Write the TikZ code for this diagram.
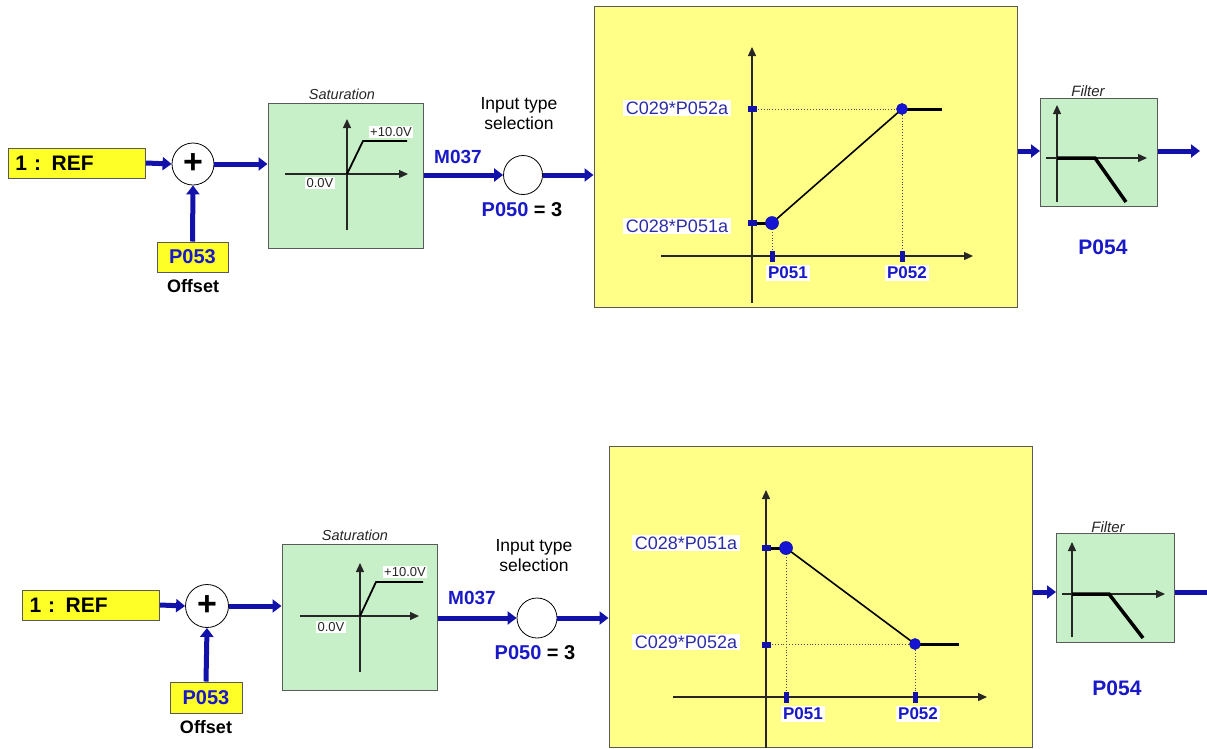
\documentclass[tikz,border=0pt]{standalone}
\usepackage{fontspec}
\setmainfont{Liberation Sans}
\usetikzlibrary{arrows.meta,calc}
\definecolor{sigblue}{RGB}{18,18,170}
\definecolor{lblblue}{RGB}{25,25,200}
\definecolor{cblue}{RGB}{45,45,165}
\definecolor{dotblue}{RGB}{20,20,210}
\definecolor{refyellow}{RGB}{255,255,40}
\definecolor{bigyellow}{RGB}{255,255,135}
\definecolor{satgreen}{RGB}{200,240,200}
\definecolor{framegray}{RGB}{90,90,90}
\newcommand{\fs}[1]{\fontsize{#1}{#1}\selectfont}
\tikzset{
  sig/.style={draw=sigblue, line width=5pt, -{Triangle[length=9pt,width=13pt]}},
  sigplain/.style={draw=sigblue, line width=5pt},
  axisline/.style={draw=black!85, line width=1.3pt, -{Triangle[length=9pt,width=8pt]}},
  curve/.style={draw=black, line width=1.6pt},
  flat/.style={draw=black, line width=3pt},
  filtline/.style={draw=black, line width=3.5pt},
  guide/.style={draw=black!70, line width=0.9pt, dotted},
  refbox/.style={draw=framegray, line width=1pt, fill=refyellow, text width=123pt,
    inner xsep=7pt, inner ysep=0pt, minimum height=30pt, align=left, font=\fs{21}\bfseries},
  parbox/.style={draw=framegray, line width=1pt, fill=refyellow, minimum width=71pt,
    minimum height=30pt, inner sep=0pt, text=lblblue, font=\fs{20}\bfseries},
  sumnode/.style={circle, draw=black, line width=0.8pt, fill=white, minimum size=42pt,
    inner sep=0pt, font=\fs{34}\bfseries},
  selnode/.style={circle, draw=black, line width=0.8pt, fill=white, minimum size=39pt, inner sep=0pt},
  greenbox/.style={draw=framegray, line width=1pt, fill=satgreen, inner sep=0pt},
  yelbox/.style={draw=framegray, line width=1pt, fill=bigyellow, inner sep=0pt},
  boxtitle/.style={font=\fs{14.5}\itshape, text=black!85, inner sep=0pt},
  smalllbl/.style={fill=white, inner sep=1.5pt, font=\fs{13}, text=black!85},
  cval/.style={fill=white, inner xsep=3pt, inner ysep=2pt, font=\fs{18}, text=cblue},
  pval/.style={fill=white, inner xsep=2pt, inner ysep=1.5pt, font=\fs{17}\bfseries, text=lblblue},
  bluelbl/.style={inner sep=0pt, font=\fs{19}\bfseries, text=lblblue},
  plainlbl/.style={inner sep=0pt, font=\fontsize{17.5}{20}\selectfont, align=center},
  offlbl/.style={inner sep=0pt, font=\fs{18}\bfseries},
  htick/.style={fill=sigblue, inner sep=0pt, minimum width=9pt, minimum height=6pt},
  vtick/.style={fill=sigblue, inner sep=0pt, minimum width=5pt, minimum height=11pt},
  bigdot/.style={circle, fill=dotblue, draw=sigblue, line width=0.6pt, inner sep=0pt, minimum size=13pt},
  smalldot/.style={circle, fill=dotblue, draw=sigblue, line width=0.6pt, inner sep=0pt, minimum size=11pt}
}
\begin{document}
\begin{tikzpicture}[x=1pt,y=-1pt]
\useasboundingbox (0,0) rectangle (1207,748);
\clip (0,0) rectangle (1207,748);

% ================= TOP ROW =================
\node[refbox] (ref1) at (77,163) {1 : REF};
\node[sumnode] (sum1) at (193,164) {+};
\node[parbox] (p53a) at (192.5,257) {P053};
\node[offlbl] (off1) at (193,286) {Offset};
\node[greenbox, minimum width=155pt, minimum height=145pt] (sat1) at (345.5,175.5) {};
\node[boxtitle] (satt1) at (342,94) {Saturation};
\node[selnode] (sel1) at (523,175) {};
\node[bluelbl] (m37a) at (458,157) {M037};
\node[plainlbl] (its1) at (519,114) {Input type\\selection};
\node[inner sep=0pt, font=\fs{20}\bfseries] (p50a) at (522,210) {\textcolor{lblblue}{P050} = 3};
\node[yelbox, minimum width=423pt, minimum height=301pt] (yel1) at (805.5,156.5) {};
\node[greenbox, minimum width=117pt, minimum height=108pt] (filt1) at (1098.5,152) {};
\node[boxtitle, font=\fs{15}\itshape] (filtt1) at (1088,91) {Filter};
\node[bluelbl, font=\fs{21}\bfseries] (p54a) at (1103,247) {P054};

% signal connectors
\draw[sig] (ref1.east) -- (sum1.west);
\draw[sig] (p53a.north) -- (sum1.south);
\draw[sig] (sum1.east) -- (sum1.east -| sat1.west);
\draw[sig] (sat1.east |- sel1.west) -- (sel1.west);
\draw[sig] (sel1.east) -- (sel1.east -| yel1.west);
\coordinate (f1in) at (1040,151);
\draw[sig] (yel1.east |- f1in) -- (f1in);
\coordinate (out1) at (1200,151);
\draw[sig] (filt1.east |- out1) -- (out1);

% saturation chart
\coordinate (s1o) at (347,174);
\draw[axisline] (285,174) -- (408,174);
\draw[axisline] (347,230) -- (347,119);
\draw[line width=1.8pt] (s1o) -- (363,141) -- (407,141);
\node[smalllbl] (s1hi) at (391,132) {+10.0V};
\node[smalllbl] (s1lo) at (320,183) {0.0V};

% linear chart (rising)
\draw[axisline] (752,303) -- (752,47);
\draw[axisline] (661,256) -- (973,256);
\coordinate (A1) at (772,223);
\coordinate (B1) at (902,109);
\coordinate (B1e) at (942,109);
\draw[guide] (752,109) -- (B1);
\draw[guide] (A1) -- (772,256);
\draw[guide] (B1) -- (902,256);
\draw[flat] (752,223) -- (A1);
\draw[flat] (B1) -- (B1e);
\draw[curve] (A1) -- (B1);
\node[htick] (t1a) at (752,109) {};
\node[htick] (t1b) at (752,223) {};
\node[vtick] (t1c) at (772,256.5) {};
\node[vtick] (t1d) at (902,256.5) {};
\node[bigdot] (d1a) at (A1) {};
\node[smalldot] (d1b) at (B1) {};
\node[cval] (c29a) at (677,108) {C029*P052a};
\node[cval] (c28a) at (677,226) {C028*P051a};
\node[pval] (p51a) at (788,273) {P051};
\node[pval] (p52a) at (907,273) {P052};

% filter chart
\draw[axisline] (1046,158) -- (1147,158);
\draw[axisline] (1057,202) -- (1057,105);
\draw[filtline] (1057,158) -- (1095,158) -- (1126,202);

% ================= BOTTOM ROW =================
\node[refbox] (ref2) at (91,605) {1 : REF};
\node[sumnode, minimum size=43pt] (sum2) at (207,606) {+};
\node[parbox, minimum width=72pt, minimum height=31pt] (p53b) at (206,697.5) {P053};
\node[offlbl] (off2) at (206,727) {Offset};
\node[greenbox, minimum width=155pt, minimum height=146pt] (sat2) at (359.5,617) {};
\node[boxtitle] (satt2) at (355,535) {Saturation};
\node[selnode, minimum size=40pt] (sel2) at (537,618) {};
\node[bluelbl] (m37b) at (472,598) {M037};
\node[plainlbl] (its2) at (534,556) {Input type\\selection};
\node[inner sep=0pt, font=\fs{20}\bfseries] (p50b) at (535,653) {\textcolor{lblblue}{P050} = 3};
\node[yelbox, minimum width=423pt, minimum height=301pt] (yel2) at (820.5,596.5) {};
\node[greenbox, minimum width=118pt, minimum height=109pt] (filt2) at (1115,587.5) {};
\node[boxtitle, font=\fs{15}\itshape] (filtt2) at (1108,527) {Filter};
\node[bluelbl, font=\fs{21}\bfseries] (p54b) at (1117,688) {P054};

\draw[sig] (ref2.east) -- (sum2.west);
\draw[sig] (p53b.north) -- (sum2.south);
\draw[sig] (sum2.east) -- (sum2.east -| sat2.west);
\draw[sig] (sat2.east |- sel2.west) -- (sel2.west);
\draw[sig] (sel2.east) -- (sel2.east -| yel2.west);
\coordinate (f2in) at (1056,592);
\draw[sig] (yel2.east |- f2in) -- (f2in);
\coordinate (out2) at (1212,592);
\draw[sigplain] (filt2.east |- out2) -- (out2);

% saturation chart
\coordinate (s2o) at (360,616);
\draw[axisline] (300,616) -- (419,616);
\draw[axisline] (360,672) -- (360,563);
\draw[line width=1.8pt] (s2o) -- (376,582) -- (423,582);
\node[smalllbl] (s2hi) at (405,572) {+10.0V};
\node[smalllbl] (s2lo) at (331,627) {0.0V};

% linear chart (falling)
\draw[axisline] (766,748) -- (766,490);
\draw[axisline] (673,697) -- (987,697);
\coordinate (A2) at (786,548);
\coordinate (B2) at (915,644);
\coordinate (B2e) at (959,644);
\draw[guide] (766,644) -- (B2);
\draw[guide] (A2) -- (786,697);
\draw[guide] (B2) -- (915,697);
\draw[flat] (766,548) -- (A2);
\draw[flat] (B2) -- (B2e);
\draw[curve] (A2) -- (B2);
\node[htick] (t2a) at (766,548) {};
\node[htick] (t2b) at (766,645) {};
\node[vtick] (t2c) at (786,697.5) {};
\node[vtick] (t2d) at (915,697.5) {};
\node[bigdot] (d2a) at (A2) {};
\node[smalldot] (d2b) at (B2) {};
\node[cval] (c28b) at (686,543) {C028*P051a};
\node[cval] (c29b) at (686,642) {C029*P052a};
\node[pval] (p51b) at (803,714) {P051};
\node[pval] (p52b) at (918,714) {P052};

% filter chart
\draw[axisline] (1062,594) -- (1165,594);
\draw[axisline] (1072,637) -- (1072,542);
\draw[filtline] (1072,594) -- (1109,594) -- (1143,638);
\end{tikzpicture}
\end{document}
